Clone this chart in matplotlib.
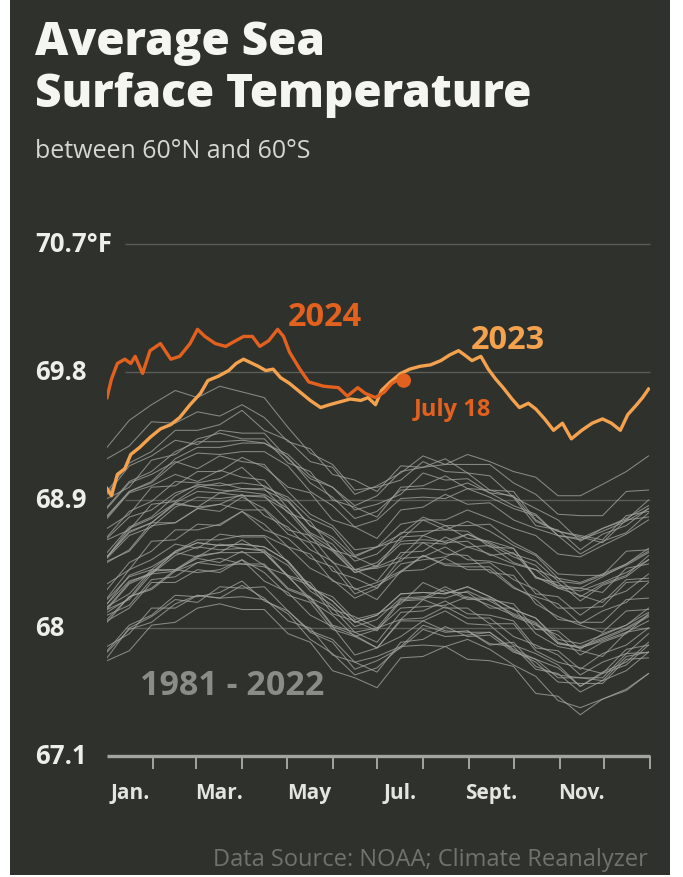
import numpy as np
import matplotlib
matplotlib.use("Agg")
import matplotlib.pyplot as plt
from matplotlib.patches import Rectangle
from matplotlib.transforms import blended_transform_factory

plt.rcParams['font.family'] = ['Open Sans', 'DejaVu Sans']

# y axis ticks (deg F)
Y_TICKS = [70.7, 69.8, 68.9, 68.0, 67.1]
Y_LABELS = ['70.7°F', '69.8', '68.9', '68', '67.1']

# month ends (day of year) and labelled months
MONTH_ENDS = [31, 60, 91, 121, 152, 182, 213, 244, 274, 305, 335, 366]
MONTH_MIDS = [15.5, 75.5, 136, 197.5, 259, 320]
MONTH_LABELS = ['Jan.', 'Mar.', 'May', 'Jul.', 'Sept.', 'Nov.']

# 2024 (through July 18)
D2024 = [0, 3, 7, 12, 16, 19, 24, 29, 36, 43, 49, 56, 61, 66, 73, 80, 85, 92,
         98, 103, 109, 115, 119, 123, 130, 136, 146, 156, 162, 169, 174, 181,
         187, 192, 197, 200]
T2024 = [69.62, 69.75, 69.86, 69.89, 69.86, 69.91, 69.79, 69.95, 70.00, 69.89,
         69.91, 70.00, 70.10, 70.05, 70.00, 69.98, 70.01, 70.05, 70.05, 69.98,
         70.02, 70.10, 70.05, 69.94, 69.82, 69.73, 69.70, 69.69, 69.63, 69.69,
         69.65, 69.62, 69.66, 69.72, 69.75, 69.74]

# 2023
D2023 = [0, 3, 7, 12, 16, 22, 29, 36, 43, 49, 56, 63, 68, 75, 82, 87, 92, 96,
         102, 107, 112, 117, 123, 130, 137, 144, 150, 157, 164, 171, 176, 181,
         185, 191, 198, 204, 211, 218, 225, 231, 237, 241, 246, 252, 257, 262,
         267, 273, 278, 284, 289, 295, 301, 307, 313, 320, 327, 334, 340, 346,
         351, 357, 361, 365]
T2023 = [68.98, 68.93, 69.08, 69.12, 69.22, 69.27, 69.34, 69.40, 69.43, 69.48,
         69.57, 69.65, 69.74, 69.77, 69.81, 69.86, 69.89, 69.87, 69.84, 69.81,
         69.82, 69.76, 69.72, 69.66, 69.60, 69.55, 69.57, 69.59, 69.61, 69.60,
         69.62, 69.57, 69.67, 69.73, 69.79, 69.82, 69.84, 69.85, 69.88, 69.92,
         69.95, 69.92, 69.88, 69.91, 69.82, 69.75, 69.69, 69.61, 69.55, 69.58,
         69.54, 69.47, 69.39, 69.44, 69.33, 69.39, 69.44, 69.47, 69.44, 69.39,
         69.50, 69.57, 69.62, 69.68]

# 1981 - 2022, sampled about every half month
D_GREY = [0, 15, 30, 46, 61, 76, 91, 106, 122, 137, 152, 167, 182, 198, 213,
          228, 243, 258, 274, 289, 304, 319, 334, 350, 365]
Y1981 = [None] * 16 + [67.98, 67.89, 67.87, 67.71, 67.68, 67.55, 67.63, 67.70, 67.83]
Y1982 = [67.87, 67.96, 68.14, 68.14, 68.23, 68.21, 68.30, 68.21, 68.05, 68.00, 67.81, 67.76, 67.69, 67.90, 67.92, 68.01, 67.94, 67.95, 67.83, 67.78, 67.72, 67.59, 67.69, 67.76, 67.90]
Y1983 = [68.17, 68.37, 68.43, 68.53, 68.50, 68.59, 68.56, 68.55, 68.36, 68.21, 68.14, 67.97, 68.00, 68.06, 68.20, 68.14, 68.14, 68.03, 68.03, 67.84, 67.76, 67.72, 67.68, 67.85, 67.88]
Y1984 = [67.83, 67.99, 68.04, 68.17, 68.23, 68.21, 68.22, 68.20, 68.10, 67.92, 67.82, 67.67, 67.72, 67.87, 67.88, 67.87, 67.92, 67.85, 67.74, 67.66, 67.49, 67.44, 67.50, 67.57, 67.68]
Y1985 = [67.77, 67.84, 68.02, 68.04, 68.14, 68.17, 68.13, 68.13, 67.96, 67.90, 67.70, 67.65, 67.58, 67.79, 67.80, 67.87, 67.78, 67.77, 67.73, 67.54, 67.52, 67.39, 67.50, 67.56, 67.68]
Y1986 = [67.84, 68.02, 68.09, 68.23, 68.22, 68.25, 68.33, 68.19, 68.12, 67.97, 67.90, 67.71, 67.77, 67.86, 67.99, 67.94, 67.95, 67.97, 67.85, 67.78, 67.65, 67.65, 67.65, 67.82, 67.83]
Y1987 = [68.14, 68.32, 68.39, 68.53, 68.60, 68.58, 68.59, 68.57, 68.47, 68.29, 68.19, 68.04, 68.09, 68.24, 68.25, 68.24, 68.29, 68.22, 68.13, 68.07, 67.90, 67.86, 67.91, 67.97, 68.05]
Y1988 = [68.15, 68.24, 68.41, 68.41, 68.49, 68.46, 68.54, 68.44, 68.27, 68.21, 68.01, 67.95, 67.86, 68.05, 68.05, 68.12, 68.03, 68.02, 67.88, 67.82, 67.74, 67.59, 67.68, 67.74, 67.88]
Y1989 = [67.79, 68.00, 68.08, 68.20, 68.18, 68.29, 68.28, 68.29, 68.12, 67.98, 67.92, 67.76, 67.80, 67.87, 68.02, 67.97, 67.98, 67.88, 67.90, 67.73, 67.67, 67.65, 67.63, 67.80, 67.83]
Y1990 = [68.17, 68.33, 68.38, 68.51, 68.57, 68.55, 68.56, 68.54, 68.44, 68.26, 68.16, 68.01, 68.06, 68.21, 68.22, 68.21, 68.26, 68.19, 68.10, 68.04, 67.89, 67.86, 67.92, 67.99, 68.08]
Y1991 = [68.13, 68.20, 68.38, 68.40, 68.50, 68.53, 68.53, 68.53, 68.36, 68.30, 68.10, 68.05, 67.98, 68.19, 68.20, 68.27, 68.20, 68.20, 68.17, 67.99, 67.98, 67.85, 67.96, 68.02, 68.14]
Y1992 = [68.04, 68.22, 68.28, 68.41, 68.39, 68.41, 68.48, 68.33, 68.25, 68.09, 68.01, 67.81, 67.86, 67.94, 68.05, 67.98, 67.97, 67.97, 67.84, 67.76, 67.62, 67.61, 67.61, 67.78, 67.79]
Y1993 = [68.05, 68.14, 68.32, 68.32, 68.41, 68.39, 68.48, 68.39, 68.23, 68.18, 67.99, 67.94, 67.86, 68.06, 68.07, 68.15, 68.07, 68.07, 67.94, 67.88, 67.81, 67.67, 67.76, 67.82, 67.96]
Y1994 = [68.06, 68.22, 68.27, 68.40, 68.46, 68.44, 68.45, 68.43, 68.37, 68.19, 68.09, 67.94, 67.99, 68.14, 68.15, 68.16, 68.22, 68.16, 68.09, 68.03, 67.89, 67.87, 67.93, 68.00, 68.09]
Y1995 = [68.21, 68.41, 68.48, 68.59, 68.56, 68.66, 68.64, 68.64, 68.46, 68.28, 68.22, 68.06, 68.10, 68.17, 68.32, 68.25, 68.25, 68.14, 68.14, 67.96, 67.87, 67.84, 67.80, 67.97, 68.00]
Y1996 = [68.09, 68.16, 68.34, 68.36, 68.46, 68.49, 68.45, 68.45, 68.28, 68.22, 68.02, 67.97, 67.90, 68.11, 68.12, 68.19, 68.10, 68.09, 68.05, 67.86, 67.84, 67.71, 67.82, 67.88, 68.00]
Y1997 = [68.13, 68.31, 68.38, 68.54, 68.62, 68.62, 68.65, 68.65, 68.57, 68.42, 68.34, 68.21, 68.28, 68.45, 68.48, 68.50, 68.57, 68.52, 68.45, 68.41, 68.28, 68.28, 68.36, 68.45, 68.56]
Y1998 = [68.77, 68.95, 69.00, 69.08, 69.03, 69.11, 69.06, 69.04, 68.84, 68.67, 68.59, 68.41, 68.42, 68.47, 68.60, 68.52, 68.51, 68.39, 68.37, 68.17, 68.08, 68.02, 67.97, 68.12, 68.13]
Y1999 = [68.11, 68.21, 68.40, 68.41, 68.51, 68.53, 68.62, 68.53, 68.37, 68.32, 68.13, 68.08, 68.00, 68.20, 68.21, 68.29, 68.21, 68.21, 68.08, 68.02, 67.95, 67.81, 67.90, 67.96, 68.10]
Y2000 = [68.20, 68.36, 68.41, 68.54, 68.60, 68.58, 68.59, 68.57, 68.47, 68.29, 68.19, 68.04, 68.09, 68.24, 68.25, 68.24, 68.29, 68.22, 68.13, 68.07, 67.92, 67.89, 67.95, 68.02, 68.11]
Y2001 = [68.27, 68.46, 68.54, 68.69, 68.69, 68.73, 68.82, 68.69, 68.63, 68.49, 68.43, 68.24, 68.30, 68.39, 68.51, 68.45, 68.45, 68.46, 68.34, 68.27, 68.14, 68.14, 68.15, 68.32, 68.33]
Y2002 = [68.46, 68.55, 68.74, 68.74, 68.84, 68.82, 68.92, 68.84, 68.69, 68.65, 68.46, 68.41, 68.33, 68.53, 68.54, 68.64, 68.57, 68.58, 68.46, 68.41, 68.35, 68.22, 68.31, 68.37, 68.51]
Y2003 = [68.63, 68.78, 68.83, 68.95, 69.00, 68.97, 68.96, 68.94, 68.84, 68.66, 68.56, 68.41, 68.46, 68.61, 68.62, 68.61, 68.66, 68.59, 68.50, 68.44, 68.29, 68.26, 68.32, 68.39, 68.48]
Y2004 = [68.50, 68.70, 68.77, 68.88, 68.85, 68.95, 68.93, 68.93, 68.75, 68.61, 68.55, 68.39, 68.43, 68.50, 68.65, 68.60, 68.61, 68.51, 68.53, 68.36, 68.30, 68.28, 68.25, 68.42, 68.45]
Y2005 = [68.62, 68.69, 68.87, 68.89, 68.99, 69.02, 68.98, 68.98, 68.81, 68.75, 68.55, 68.50, 68.43, 68.64, 68.65, 68.72, 68.63, 68.61, 68.56, 68.35, 68.32, 68.19, 68.30, 68.36, 68.48]
Y2006 = [68.49, 68.65, 68.71, 68.85, 68.92, 68.91, 68.93, 68.92, 68.82, 68.64, 68.54, 68.39, 68.44, 68.59, 68.60, 68.59, 68.66, 68.60, 68.52, 68.47, 68.33, 68.31, 68.37, 68.44, 68.53]
Y2007 = [68.50, 68.68, 68.74, 68.87, 68.85, 68.87, 68.94, 68.79, 68.71, 68.55, 68.47, 68.27, 68.32, 68.40, 68.51, 68.44, 68.43, 68.43, 68.29, 68.20, 68.06, 68.04, 68.04, 68.20, 68.21]
Y2008 = [68.31, 68.41, 68.61, 68.62, 68.73, 68.72, 68.82, 68.73, 68.57, 68.52, 68.33, 68.28, 68.20, 68.40, 68.41, 68.49, 68.41, 68.41, 68.28, 68.22, 68.17, 68.03, 68.12, 68.18, 68.32]
Y2009 = [68.50, 68.67, 68.74, 68.88, 68.96, 68.95, 68.98, 68.97, 68.89, 68.72, 68.64, 68.50, 68.57, 68.73, 68.76, 68.76, 68.83, 68.77, 68.70, 68.65, 68.52, 68.50, 68.58, 68.66, 68.76]
Y2010 = [68.84, 69.02, 69.08, 69.17, 69.12, 69.21, 69.17, 69.15, 68.96, 68.80, 68.72, 68.55, 68.57, 68.62, 68.76, 68.69, 68.68, 68.57, 68.56, 68.36, 68.28, 68.23, 68.18, 68.34, 68.35]
Y2011 = [68.47, 68.54, 68.72, 68.74, 68.84, 68.87, 68.83, 68.83, 68.66, 68.60, 68.40, 68.35, 68.28, 68.49, 68.50, 68.57, 68.48, 68.47, 68.43, 68.24, 68.22, 68.09, 68.20, 68.26, 68.38]
Y2012 = [68.53, 68.71, 68.78, 68.93, 69.01, 69.00, 69.02, 69.00, 68.90, 68.72, 68.62, 68.47, 68.52, 68.67, 68.68, 68.69, 68.75, 68.68, 68.58, 68.51, 68.35, 68.32, 68.38, 68.45, 68.54]
Y2013 = [68.64, 68.82, 68.89, 69.03, 69.02, 69.05, 69.13, 68.99, 68.92, 68.77, 68.70, 68.51, 68.57, 68.66, 68.78, 68.72, 68.72, 68.73, 68.60, 68.52, 68.38, 68.37, 68.37, 68.54, 68.55]
Y2014 = [68.70, 68.80, 68.99, 69.00, 69.10, 69.10, 69.20, 69.13, 68.99, 68.95, 68.76, 68.71, 68.63, 68.83, 68.85, 68.94, 68.87, 68.88, 68.76, 68.70, 68.65, 68.52, 68.61, 68.67, 68.81]
Y2015 = [68.78, 68.96, 69.03, 69.19, 69.27, 69.27, 69.30, 69.30, 69.22, 69.07, 68.99, 68.86, 68.93, 69.10, 69.13, 69.15, 69.22, 69.17, 69.10, 69.06, 68.93, 68.93, 69.01, 69.10, 69.21]
Y2016 = [69.27, 69.46, 69.57, 69.67, 69.62, 69.70, 69.66, 69.62, 69.41, 69.23, 69.15, 68.97, 68.99, 69.04, 69.17, 69.10, 69.09, 68.97, 68.96, 68.76, 68.68, 68.64, 68.60, 68.76, 68.78]
Y2017 = [68.91, 68.99, 69.18, 69.22, 69.33, 69.37, 69.33, 69.33, 69.16, 69.10, 68.90, 68.85, 68.78, 68.99, 69.00, 69.07, 68.98, 68.97, 68.92, 68.72, 68.69, 68.55, 68.66, 68.72, 68.84]
Y2018 = [68.79, 68.96, 69.02, 69.16, 69.23, 69.22, 69.24, 69.24, 69.14, 68.96, 68.86, 68.71, 68.76, 68.91, 68.92, 68.91, 68.98, 68.92, 68.84, 68.79, 68.65, 68.63, 68.70, 68.77, 68.86]
Y2019 = [68.96, 69.16, 69.24, 69.39, 69.39, 69.43, 69.53, 69.39, 69.32, 69.17, 69.13, 68.94, 69.00, 69.09, 69.21, 69.15, 69.15, 69.15, 69.02, 68.94, 68.80, 68.79, 68.79, 68.96, 68.97]
Y2020 = [69.19, 69.28, 69.45, 69.44, 69.52, 69.49, 69.57, 69.48, 69.31, 69.26, 69.08, 69.04, 68.96, 69.14, 69.13, 69.19, 69.09, 69.07, 68.92, 68.84, 68.76, 68.61, 68.70, 68.76, 68.90]
Y2021 = [68.85, 69.03, 69.10, 69.24, 69.31, 69.31, 69.32, 69.30, 69.20, 69.02, 68.92, 68.77, 68.82, 68.97, 68.98, 68.97, 69.02, 68.95, 68.86, 68.80, 68.65, 68.62, 68.68, 68.75, 68.84]
Y2022 = [68.94, 69.14, 69.21, 69.32, 69.29, 69.39, 69.37, 69.37, 69.19, 69.05, 68.99, 68.83, 68.87, 68.94, 69.09, 69.04, 69.05, 68.95, 68.93, 68.75, 68.68, 68.65, 68.62, 68.79, 68.82]

GREY = [Y1981, Y1982, Y1983, Y1984, Y1985, Y1986, Y1987, Y1988, Y1989, Y1990,
        Y1991, Y1992, Y1993, Y1994, Y1995, Y1996, Y1997, Y1998, Y1999, Y2000,
        Y2001, Y2002, Y2003, Y2004, Y2005, Y2006, Y2007, Y2008, Y2009, Y2010,
        Y2011, Y2012, Y2013, Y2014, Y2015, Y2016, Y2017, Y2018, Y2019, Y2020,
        Y2021, Y2022]

BG = '#2f312d'
C2024 = '#e2611e'
C2023 = '#f5a24f'
W, H = 683, 878

fig = plt.figure(figsize=(W / 100, H / 100), dpi=100)
fig.patch.set_facecolor('white')
fig.patches.append(Rectangle((10 / W, 2 / H), 660 / W, 876 / H, transform=fig.transFigure,
                             facecolor=BG, edgecolor='none', zorder=-10))

ax = fig.add_axes([107 / W, 121 / H, 543 / W, 512 / H])
ax.set_facecolor('none')
ax.set_xlim(0, 366)
ax.set_ylim(67.1, 70.7)
for s in ax.spines.values():
    s.set_visible(False)
ax.set_xticks([])
ax.set_yticks([])

# grid
ax.hlines(Y_TICKS[:-1], 12, 366, color='#5b5d59', lw=1.0, zorder=1, clip_on=False)
ax.hlines(67.1, 0, 366, color='#a3a5a1', lw=2.4, zorder=4, clip_on=False)
xt = blended_transform_factory(ax.transData, ax.transAxes)
ax.vlines(MONTH_ENDS, -0.026, 0, transform=xt, color='#a3a5a1', lw=1.4, clip_on=False)

ylab = blended_transform_factory(fig.transFigure, ax.transData)
for v, lab in zip(Y_TICKS, Y_LABELS):
    ax.text(35 / W, v, lab, transform=ylab, ha='left', va='center', fontsize=18.5,
            fontweight='bold', color='#eeeeea')

for m, lab in zip(MONTH_MIDS, MONTH_LABELS):
    ax.text(m, -0.072, lab, transform=xt, ha='center', va='center', fontsize=15,
            fontweight='bold', color='#e4e4e0')

# history
for vals in GREY:
    ax.plot(D_GREY, np.array(vals, dtype=float), color='#a4a7a2', lw=0.75, alpha=0.75, zorder=2)

ax.plot(D2023, T2023, color=C2023, lw=2.4, zorder=5, solid_joinstyle='round')
ax.plot(D2024, T2024, color=C2024, lw=2.4, zorder=6, solid_joinstyle='round')
ax.scatter([D2024[-1]], [T2024[-1]], s=110, color=C2024, zorder=7, edgecolors='none')

ax.text(147, 70.19, '2024', ha='center', va='center', fontsize=23.5, fontweight='bold', color=C2024)
ax.text(270, 70.03, '2023', ha='center', va='center', fontsize=23.5, fontweight='bold', color=C2023)
ax.text(207, 69.54, 'July 18', ha='left', va='center', fontsize=17, fontweight='bold', color=C2024)
ax.text(22, 67.60, '1981 - 2022', ha='left', va='center', fontsize=24.5, fontweight='bold', color='#8a8c87')

fig.text(35 / W, 1 - 55 / H, 'Average Sea', ha='left', va='baseline', fontsize=33,
         fontweight=800, color='#f5f5f1')
fig.text(35 / W, 1 - 107 / H, 'Surface Temperature', ha='left', va='baseline', fontsize=33,
         fontweight=800, color='#f5f5f1')
fig.text(35 / W, 1 - 158 / H, 'between 60°N and 60°S', ha='left', va='baseline', fontsize=18,
         color='#d6d7d3')
fig.text(648 / W, 1 - 860 / H, 'Data Source: NOAA; Climate Reanalyzer', ha='right', va='center',
         fontsize=17, color='#70726e')

fig.savefig('out.png', dpi=100, facecolor=fig.get_facecolor())
